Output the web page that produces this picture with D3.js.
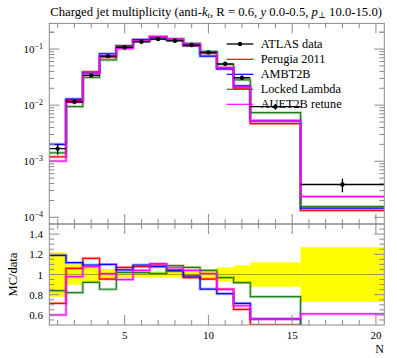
<!DOCTYPE html>
<html><head><meta charset="utf-8">
<script src="https://cdn.jsdelivr.net/npm/d3@7/dist/d3.min.js"></script>
<style>body{margin:0;background:#fff}svg{display:block}text{font-family:"Liberation Serif","DejaVu Serif",serif;fill:#000}</style>
</head><body><svg id="c" width="397" height="358"></svg>
<script>
// ---- data ----
const binEdges = [0.5,1.5,2.5,3.5,4.5,5.5,6.5,7.5,8.5,9.5,10.5,11.5,12.5,15.5,20.5];
const dataVals = [1.68e-3,0.0115,0.0339,0.075,0.107,0.135,0.151,0.1406,0.118,0.0873,0.0547,0.0308,0.0094,3.85e-4];
const dataRelErr = [0.22,0.10,0.075,0.055,0.035,0.03,0.03,0.03,0.035,0.05,0.07,0.09,0.12,0.27];
const ratioPerugia = [0.715,1.06,1.16,0.955,1.07,1.077,1.094,1.045,0.97,0.955,0.853,0.655,0.50,0.344];
const ratioAMBT2B = [1.19,1.117,1.094,1.10,1.045,1.094,1.077,1.035,0.985,0.856,0.81,0.715,0.56,0.378];
const ratioLocked = [0.84,0.82,0.923,0.854,1.02,1.018,1.01,1.087,1.07,1.04,0.97,0.92,0.78,0.405];
const ratioAUET2B = [0.60,0.978,1.077,1.008,0.95,1.04,1.107,1.067,1.04,1.01,0.853,0.69,0.56,0.61];
const seriesNames = ["Perugia 2011","AMBT2B","Locked Lambda","AUET2B retune"];
const seriesColors = ["#ff0000","#0000ff","#208020","#ff00ff"];
const xTickLabels = [5,10,15,20];
const mainTickExps = [-4,-3,-2,-1];
const ratioTickLabels = [0.6,0.8,1,1.2,1.4];

const series = [ratioPerugia,ratioAMBT2B,ratioLocked,ratioAUET2B].map((r,i)=>({
  name:seriesNames[i], color:seriesColors[i], ratio:r, vals:r.map((v,j)=>v*dataVals[j])
}));

const svg = d3.select("#c");
const L=49.3, R=384.3, T=23.4, MB=224, RB=325;
const x = d3.scaleLinear().domain([0.5,20.5]).range([L,R]);
const y = d3.scaleLog().domain([Math.pow(10,-4.119),Math.pow(10,-0.542)]).range([MB,T]);
const yr = d3.scaleLinear().domain([0.5,1.5]).range([RB,MB]);

const defs = svg.append("defs");
defs.append("clipPath").attr("id","cm").append("rect").attr("x",L).attr("y",T).attr("width",R-L).attr("height",MB-T);
defs.append("clipPath").attr("id","cr").append("rect").attr("x",L).attr("y",MB).attr("width",R-L).attr("height",RB-MB);

function stepPts(vals){const p=[];vals.forEach((v,i)=>{p.push([binEdges[i],v]);p.push([binEdges[i+1],v]);});return p;}

// title
const title = svg.append("text").attr("x",L+1).attr("y",16).style("font-size","12.7px");
title.append("tspan").text("Charged jet multiplicity (anti-");
title.append("tspan").style("font-style","italic").text("k");
title.append("tspan").style("font-style","italic").style("font-size","8.5px").attr("dy",2).text("t");
title.append("tspan").attr("dy",-2).text(", R = 0.6, ");
title.append("tspan").style("font-style","italic").text("y");
title.append("tspan").text(" 0.0-0.5, ");
title.append("tspan").style("font-style","italic").text("p");
title.append("tspan").style("font-size","8.5px").attr("dy",2).text("\u22a5");
title.append("tspan").attr("dy",-2).text(" 10.0-15.0)");

// ---- ratio panel band ----
const gr = svg.append("g").attr("clip-path","url(#cr)");
dataRelErr.forEach((e,i)=>{
  gr.append("rect").attr("x",x(binEdges[i])).attr("width",x(binEdges[i+1])-x(binEdges[i]))
    .attr("y",yr(1+e)).attr("height",yr(1-e)-yr(1+e)).attr("fill","#ffff00");
});
gr.append("line").attr("x1",L).attr("x2",R).attr("y1",yr(1)).attr("y2",yr(1)).attr("stroke","#000").attr("stroke-opacity",0.35);
const lineR = d3.line().x(d=>x(d[0])).y(d=>yr(d[1]));
series.forEach(s=>{
  gr.append("path").attr("d",lineR(stepPts(s.ratio))).attr("fill","none").attr("stroke",s.color).attr("stroke-width",3).attr("stroke-opacity",0.3);
  gr.append("path").attr("d",lineR(stepPts(s.ratio))).attr("fill","none").attr("stroke",s.color).attr("stroke-width",1.2);
});

// ---- legend ----
const legY = [44,59.3,74.3,89.3,104.3];
const legNames = ["ATLAS data"].concat(seriesNames);
const legColors = ["#000"].concat(seriesColors);
legNames.forEach((n,i)=>{
  svg.append("line").attr("x1",226.7).attr("x2",253.3).attr("y1",legY[i]).attr("y2",legY[i]).attr("stroke",legColors[i]).attr("stroke-width",i==0?1.3:1.2);
  svg.append("text").attr("x",260.7).attr("y",legY[i]+4).style("font-size","12.3px").text(n);
});
svg.append("circle").attr("cx",240).attr("cy",legY[0]).attr("r",2.2).attr("fill","#000");

// ---- main panel ----
const gm = svg.append("g").attr("clip-path","url(#cm)");
const lineM = d3.line().x(d=>x(d[0])).y(d=>y(d[1]));
series.forEach(s=>{
  gm.append("path").attr("d",lineM(stepPts(s.vals))).attr("fill","none").attr("stroke",s.color).attr("stroke-width",3).attr("stroke-opacity",0.3);
  gm.append("path").attr("d",lineM(stepPts(s.vals))).attr("fill","none").attr("stroke",s.color).attr("stroke-width",1.2);
});
dataVals.forEach((v,i)=>{
  const c=(binEdges[i]+binEdges[i+1])/2;
  gm.append("line").attr("x1",x(binEdges[i])).attr("x2",x(binEdges[i+1])).attr("y1",y(v)).attr("y2",y(v)).attr("stroke","#000").attr("stroke-width",1.3);
  gm.append("line").attr("x1",x(c)).attr("x2",x(c)).attr("y1",y(v*(1+dataRelErr[i]))).attr("y2",y(v*(1-dataRelErr[i]))).attr("stroke","#000").attr("stroke-width",1.3);
  gm.append("circle").attr("cx",x(c)).attr("cy",y(v)).attr("r",2.2).attr("fill","#000");
});

// ---- frames & ticks ----
const ax = svg.append("g").attr("stroke","#8a8a8a").attr("stroke-width",1).attr("fill","none");
ax.append("rect").attr("x",L).attr("y",T).attr("width",R-L).attr("height",MB-T);
ax.append("rect").attr("x",L).attr("y",MB).attr("width",R-L).attr("height",RB-MB);
for(let k=1;k<=20;k++){
  const len = (k%5===0)?10:5, px=x(k);
  [[T,1],[MB,-1],[MB,1],[RB,-1]].forEach(([yy,dir])=>{
    ax.append("line").attr("x1",px).attr("x2",px).attr("y1",yy).attr("y2",yy+dir*len);
  });
}
mainTickExps.forEach(e=>{
  for(let m=1;m<=9;m++){
    const v=m*Math.pow(10,e); const py=y(v);
    if(py<T-0.1||py>MB+0.1) continue;
    const len=(m===1)?10:5;
    ax.append("line").attr("x1",L).attr("x2",L+len).attr("y1",py).attr("y2",py);
    ax.append("line").attr("x1",R).attr("x2",R-len).attr("y1",py).attr("y2",py);
  }
});
[2,3,4,5].forEach(m=>{const v=m*0.1,py=y(v); if(py>=T){
  ax.append("line").attr("x1",L).attr("x2",L+5).attr("y1",py).attr("y2",py);
  ax.append("line").attr("x1",R).attr("x2",R-5).attr("y1",py).attr("y2",py);}});
for(let k=11;k<30;k++){
  const v=k*0.05, py=yr(v); const major=ratioTickLabels.some(t=>Math.abs(t-v)<1e-6);
  const len=major?10:5;
  ax.append("line").attr("x1",L).attr("x2",L+len).attr("y1",py).attr("y2",py);
  ax.append("line").attr("x1",R).attr("x2",R-len).attr("y1",py).attr("y2",py);
}

// labels
mainTickExps.forEach(e=>{
  const t=svg.append("text").attr("x",43).attr("y",y(Math.pow(10,e))+4).attr("text-anchor","end").style("font-size","11px");
  t.append("tspan").text("10");
  t.append("tspan").attr("dy",-4).style("font-size","8px").text("\u2212"+(-e));
});
ratioTickLabels.forEach(v=>{
  svg.append("text").attr("x",43).attr("y",yr(v)+4).attr("text-anchor","end").style("font-size","11px").text(v);
});
xTickLabels.forEach(v=>{
  svg.append("text").attr("x",x(v)).attr("y",339).attr("text-anchor","middle").style("font-size","11px").text(v);
});
svg.append("text").attr("x",384).attr("y",353).attr("text-anchor","end").style("font-size","12px").text("N");
svg.append("text").attr("transform",`translate(16.5,${yr(1)}) rotate(-90)`).attr("text-anchor","middle").style("font-size","12.5px").text("MC/data");
</script></body></html>
